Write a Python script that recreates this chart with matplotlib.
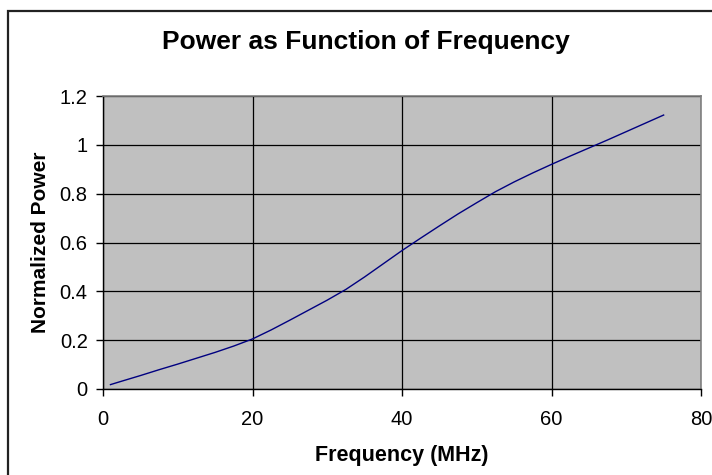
import matplotlib
matplotlib.use("Agg")
import matplotlib.pyplot as plt
from matplotlib.patches import Rectangle

freq_mhz = [1, 2.5, 5, 7.5, 10, 12.5, 15, 17.5, 20, 22.5, 25, 27.5, 30, 32.5, 35, 37.5,
            40, 42.5, 45, 47.5, 50, 52.5, 55, 57.5, 60, 62.5, 65, 67.5, 70, 72.5, 75]
power = [0.018, 0.032, 0.055, 0.079, 0.102, 0.126, 0.150, 0.176, 0.205, 0.242, 0.282, 0.323,
         0.364, 0.408, 0.459, 0.513, 0.567, 0.618, 0.668, 0.717, 0.763, 0.808, 0.848, 0.885,
         0.920, 0.954, 0.987, 1.020, 1.054, 1.088, 1.122]
x_ticks = [0, 20, 40, 60, 80]
y_ticks = [0, 0.2, 0.4, 0.6, 0.8, 1, 1.2]
y_tick_labels = ["0", "0.2", "0.4", "0.6", "0.8", "1", "1.2"]

plt.rcParams['font.family'] = ['Liberation Sans', 'DejaVu Sans']

W, H = 712, 475
fig = plt.figure(figsize=(W / 100, H / 100), dpi=100)
fig.patch.set_facecolor("white")

# outer chart border (left and top visible)
fig.add_artist(Rectangle((8 / W, -0.1), 1.2, (H - 11) / H + 0.1, transform=fig.transFigure,
                         fill=False, edgecolor="#222222", linewidth=1.6))

left, right, top, bottom = 103, 701, 96, 389
ax = fig.add_axes([left / W, (H - bottom) / H, (right - left) / W, (bottom - top) / H])
ax.set_facecolor("#C0C0C0")

ax.plot(freq_mhz, power, color="#000080", linewidth=1.0)

ax.set_xlim(0, 80)
ax.set_ylim(0, 1.2)
ax.set_xticks(x_ticks)
ax.set_yticks(y_ticks)
ax.set_yticklabels(y_tick_labels)
ax.grid(True, color="black", linewidth=0.9)
ax.set_axisbelow(True)

for s in ["top", "right"]:
    ax.spines[s].set_color("#808080")
    ax.spines[s].set_linewidth(1.2)
for s in ["left", "bottom"]:
    ax.spines[s].set_color("black")
    ax.spines[s].set_linewidth(1.0)

ax.tick_params(axis="both", direction="out", length=5, width=1.0, labelsize=14.5, color="black")
ax.tick_params(axis="x", pad=10)
ax.tick_params(axis="y", pad=6)

ax.set_xlabel("Frequency (MHz)", fontsize=15.5, fontweight="bold", labelpad=12)
ax.set_ylabel("Normalized Power", fontsize=15, fontweight="bold", labelpad=7)

fig.text(366 / W, 1 - 42 / H, "Power as Function of Frequency", fontsize=19, fontweight="bold",
         ha="center", va="center")

fig.savefig("out.png", dpi=100)
